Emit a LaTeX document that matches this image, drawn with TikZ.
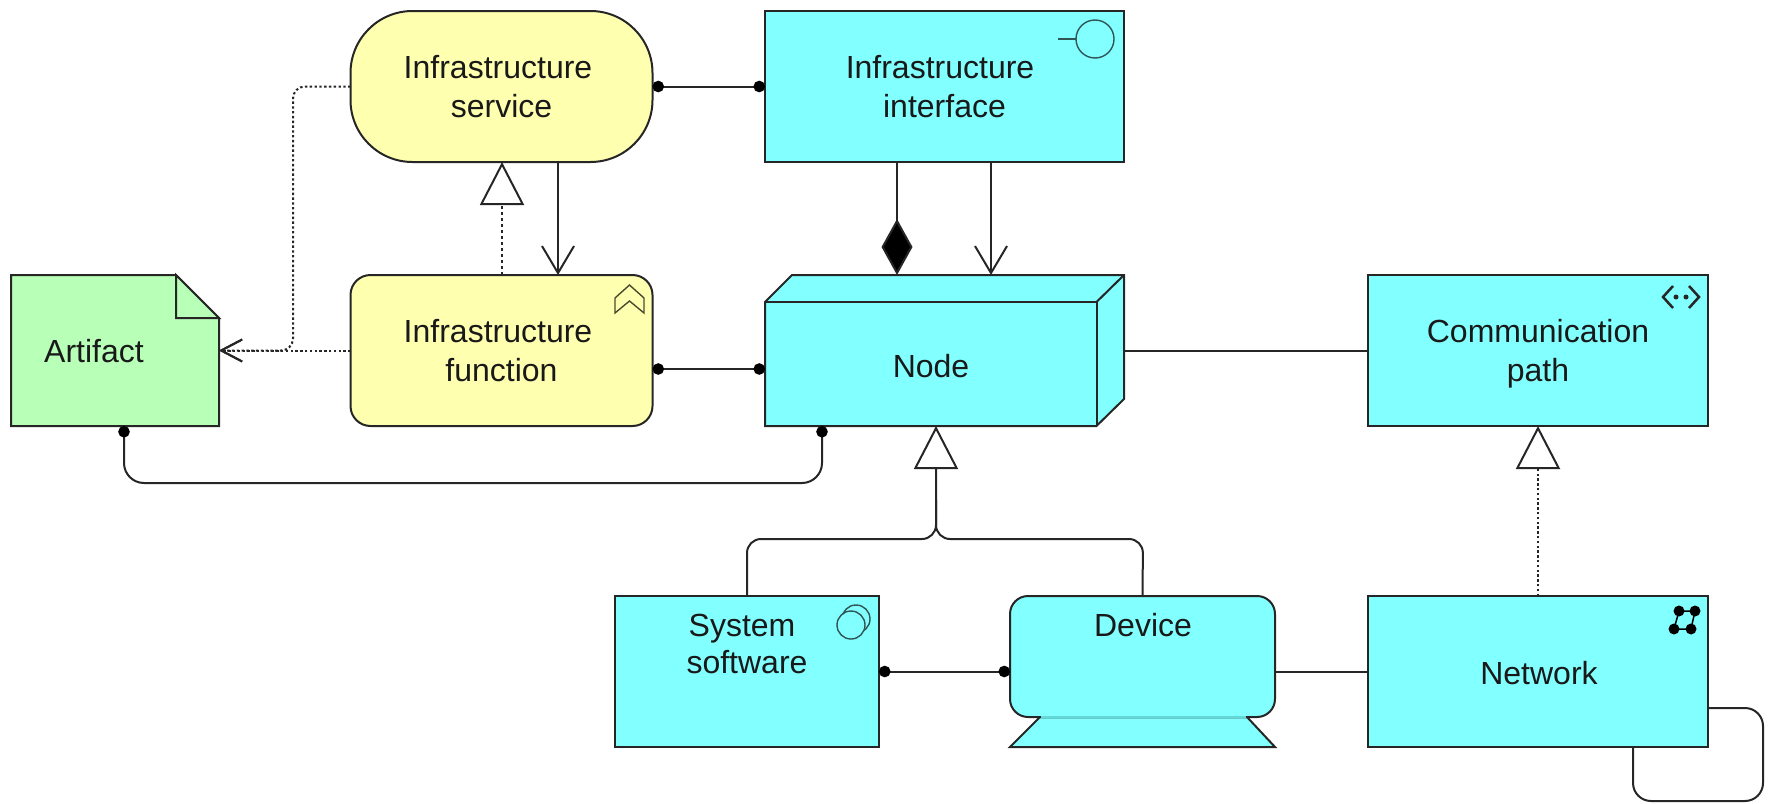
\documentclass[tikz,border=0pt]{standalone}
\usepackage{fontspec}
\setmainfont{Liberation Sans}
\usetikzlibrary{arrows.meta}
\definecolor{aqua}{HTML}{82FFFF}
\definecolor{lemon}{HTML}{FFFFB0}
\definecolor{mint}{HTML}{B8FFB8}
\definecolor{ink}{HTML}{262626}
\definecolor{iconink}{HTML}{2F5555}
\definecolor{oliveink}{HTML}{4A4A30}
\definecolor{screenedge}{HTML}{62D8D8}
\tikzset{
  x=1pt,y=-1pt,
  box/.style={draw=ink,line width=2pt,outer sep=0pt,inner sep=0pt,align=center,
    font=\fontsize{32}{39.5}\selectfont,text=black!90},
  aquabox/.style={box,fill=aqua},
  lemonbox/.style={box,fill=lemon},
  ghost/.style={outer sep=0pt,inner sep=0pt},
  lbl/.style={inner sep=0pt,align=center,font=\fontsize{32}{37}\selectfont,text=black!90},
  rel/.style={draw=ink,line width=2pt},
  dotline/.style={rel,dash pattern=on 2.4pt off 2.4pt},
  dots/.style={{Circle[length=11.5pt,color=black]}-{Circle[length=11.5pt,color=black]}},
  opentip/.style={-{Straight Barb[length=27pt,width=32pt,line width=2pt]}},
  smalltip/.style={-{Straight Barb[length=21pt,width=22pt,line width=2pt]}},
  tri/.style={-{Triangle[open,length=43pt,width=44pt,fill=white,line width=2pt]}},
  icon/.style={draw=iconink,line width=1.4pt},
}
\begin{document}
\begin{tikzpicture}
\useasboundingbox (0,0) rectangle (1769,803);

% artifact
\node[ghost,minimum width=208pt,minimum height=151pt] (art) at (115,350.5) {};
\draw[box,fill=mint] (art.north west) -- (176,275) -- (219,318) -- (art.south east) -- (art.south west) -- cycle;
\draw[box,fill=mint] (176,275) -- (176,318) -- (219,318) -- cycle;
\node[lbl] (artt) at (94,351) {Artifact};

% yellow boxes
\node[lemonbox,rounded corners=62pt,minimum width=302pt,minimum height=151pt] (svc) at (501.5,86.5) {Infrastructure\hspace*{7pt}\\service};
\node[lemonbox,rounded corners=20pt,minimum width=302pt,minimum height=151pt] (fn) at (501.5,350.5) {Infrastructure\hspace*{7pt}\\function};
\draw[icon,draw=oliveink] (615,298) -- (629.5,285) -- (644,298) -- (644,313) -- (629.5,301) -- (615,313) -- cycle;

% interface
\node[aquabox,minimum width=359pt,minimum height=151pt] (ifc) at (944.5,86.5) {Infrastructure\hspace*{9pt}\\interface};
\draw[icon] (1095,39) circle (19);
\draw[icon] (1058,39) -- (1076,39);

% node (3D)
\node[ghost,minimum width=359pt,minimum height=151pt] (nd) at (944.5,350.5) {};
\draw[box,fill=aqua] (nd.south west) -- (765,302) -- (792,275) -- (nd.north east) -- (1124,399) -- (1096.5,426) -- cycle;
\draw[box] (765,302) -- (1096.5,302) -- (1096.5,426);
\draw[box] (1096.5,302) -- (nd.north east);
\node[lbl] (ndt) at (931,366) {Node};

% communication path
\node[aquabox,minimum width=340pt,minimum height=151pt] (cp) at (1538,350.5) {Communication\\\smash{path}};
\draw[line width=2.5pt,draw=ink] (1673,286) -- (1663,297) -- (1673,308);
\draw[line width=2.5pt,draw=ink] (1689,286) -- (1699,297) -- (1689,308);
\fill[ink] (1676,297) circle (2.5) (1686,297) circle (2.5);

% system software
\node[aquabox,minimum width=264pt,minimum height=151pt] (sys) at (747,671.5) {};
\node[lbl] (syst) at (747,644) {System\hspace*{10pt}\\software};
\draw[icon] (856,619) circle (14);
\draw[icon,fill=aqua] (851,625) circle (14);

% device
\node[ghost,minimum width=265pt,minimum height=151pt] (dev) at (1142.5,671.5) {};
\draw[box,fill=aqua] (1040,717) -- (dev.south west) -- (dev.south east) -- (1247,717) -- cycle;
\node[aquabox,rounded corners=18pt,minimum width=265pt,minimum height=121pt] (scr) at (1142.5,656.5) {};
\draw[screenedge,line width=2.2pt] (1041,717) -- (1246,717);
\node[lbl] (devt) at (1143,625) {Device};

% network
\node[aquabox,minimum width=340pt,minimum height=151pt] (net) at (1538,671.5) {};
\node[lbl] (nett) at (1539,673) {Network};
\draw[line width=1.5pt,draw=black] (1679,611) -- (1695,611) -- (1691,629) -- (1674,629) -- cycle;
\fill[black] (1679,611) circle (5.5) (1695,611) circle (5.5) (1691,629) circle (5.5) (1674,629) circle (5.5);

% connectors
\draw[rel,dots] (svc.east) -- (ifc.west);
\draw[rel,dots] (fn.east |- 0,369) -- (nd.west |- 0,369);
\draw[rel,dots] (sys.east) -- (scr.west |- sys.east);
\draw[rel] (scr.east |- net.west) -- (net.west);
\draw[rel] (nd.east) -- (cp.west);
\draw[rel,dots,rounded corners=20pt] (124,0 |- art.south) -- (124,483) -- (822,483) -- (822,0 |- nd.south);
\draw[dotline,line width=2.4pt,dash pattern=on 3pt off 3pt,tri] (502,0 |- fn.north) -- (502,0 |- svc.south);
\draw[rel,opentip] (558,0 |- svc.south) -- (558,0 |- fn.north);
\draw[rel,-{Diamond[length=56pt,width=31pt,fill=black]}] (897,0 |- ifc.south) -- (897,0 |- nd.north);
\draw[rel,opentip] (991,0 |- ifc.south) -- (991,0 |- nd.north);
\draw[dotline,smalltip] (fn.west) -- (art.east);
\draw[dotline,smalltip,rounded corners=12pt] (svc.west) -- (293,0 |- svc.west) -- (293,0 |- art.east) -- (art.east);
\draw[rel,rounded corners=14pt] (dev.north) -- (1143,539) -- (936,539) -- (936,500);
\draw[rel,tri,rounded corners=14pt] (sys.north) -- (747,539) -- (936,539) -- (936,0 |- nd.south);
\draw[dotline,tri] (net.north) -- (cp.south);
\draw[rel,rounded corners=18pt] (net.east |- 0,708) -- (1763,708) -- (1763,801) -- (1633,801) -- (1633,0 |- net.south);
\end{tikzpicture}
\end{document}
